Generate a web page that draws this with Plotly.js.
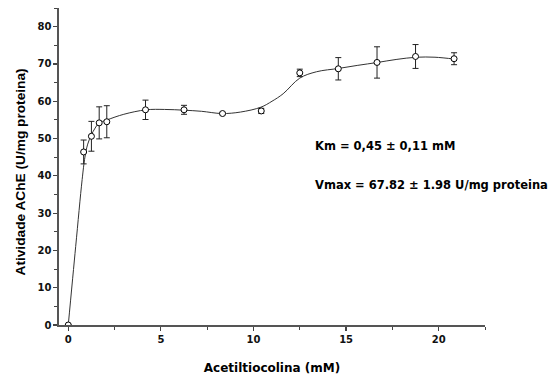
<!DOCTYPE html>
<html>
<head>
<meta charset="utf-8">
<script src="https://cdn.plot.ly/plotly-3.0.1.min.js"></script>
<style>html,body{margin:0;padding:0;background:#fff;}#chart{width:554px;height:378px;}</style>
</head>
<body>
<div id="chart"></div>
<script>
// Measured points (substrate mM, activity U/mg proteina, SD)
const substrate = [0, 0.83, 1.25, 1.67, 2.08, 4.17, 6.25, 8.33, 10.42, 12.5, 14.58, 16.67, 18.75, 20.83];
const activity  = [0, 46.4, 50.6, 54.2, 54.5, 57.7, 57.7, 56.7, 57.4, 67.6, 68.7, 70.4, 72.0, 71.4];
const sd        = [0, 3.2, 4.0, 4.3, 4.3, 2.6, 1.2, 0.3, 0.7, 1.0, 3.0, 4.2, 3.2, 1.6];

// Fitted curve
const fitX = [0, 0.4, 0.75, 0.9, 1.05, 1.25, 1.45, 1.65, 2.1, 3.0, 4.2, 5.2, 6.25, 7.2, 8.3, 9.3, 10.4, 11.0, 11.6, 12.5, 13.4, 14.6, 15.6, 16.7, 17.7, 18.8, 19.8, 20.85];
const fitY = [0, 21, 39, 45, 48.5, 51, 52.8, 54.1, 55, 56.5, 57.7, 57.8, 57.6, 57.3, 56.7, 57.1, 58.4, 60, 62, 66.2, 67.9, 68.8, 69.6, 70.4, 71.2, 71.8, 71.8, 71.3];

const xTicks = [0, 5, 10, 15, 20];
const yTicks = [0, 10, 20, 30, 40, 50, 60, 70, 80];

const kmText = "Km = 0,45 ± 0,11 mM";
const vmaxText = "Vmax = 67.82 ± 1.98 U/mg proteina";
const xTitle = "Acetiltiocolina (mM)";
const yTitle = "Atividade AChE (U/mg proteina)";

const WIDE = "DejaVu Sans, Verdana, sans-serif";
const NARROW = "Liberation Sans, Arial, sans-serif";

const traces = [
  {
    x: fitX, y: fitY, type: 'scatter', mode: 'lines',
    line: {color: '#333', width: 1, shape: 'spline', smoothing: 1},
    hoverinfo: 'skip', showlegend: false
  },
  {
    x: substrate, y: activity, type: 'scatter', mode: 'markers',
    marker: {symbol: 'circle', size: 6, color: '#fff', line: {color: '#000', width: 1}},
    error_y: {type: 'data', array: sd, visible: true, color: '#222', thickness: 1, width: 3},
    showlegend: false
  }
];

const layout = {
  width: 554, height: 378,
  margin: {l: 59, r: 69, t: 8, b: 53},
  paper_bgcolor: '#fff', plot_bgcolor: '#fff',
  showlegend: false,
  font: {family: WIDE, color: '#000'},
  xaxis: {
    range: [-0.5, 22.5], tickvals: xTicks, ticktext: xTicks.map(String),
    ticks: 'outside', ticklen: 4, tickwidth: 1.2, tickcolor: '#444',
    minor: {dtick: 2.5, tick0: 0, ticks: 'outside', ticklen: 3, tickcolor: '#444', tickwidth: 1},
    showline: true, linecolor: '#555', linewidth: 1.6, showgrid: false, zeroline: false,
    tickfont: {family: WIDE, size: 10, weight: 'bold', color: '#111'},
    title: {text: xTitle, font: {family: WIDE, size: 12, weight: 'bold', color: '#000'}, standoff: 20}
  },
  yaxis: {
    range: [0, 85], tickvals: yTicks, ticktext: yTicks.map(String),
    ticks: 'outside', ticklen: 4, tickwidth: 1.2, tickcolor: '#444',
    minor: {dtick: 5, tick0: 0, ticks: 'outside', ticklen: 3, tickcolor: '#444', tickwidth: 1},
    showline: true, linecolor: '#555', linewidth: 1.6, showgrid: false, zeroline: false,
    tickfont: {family: WIDE, size: 10, weight: 'bold', color: '#111'}
  },
  annotations: [
    {xref: 'paper', yref: 'paper', x: (20 - 59) / 426, y: (325 - 172.5) / 317, xanchor: 'center', yanchor: 'middle',
     textangle: -90, text: yTitle, showarrow: false, font: {family: NARROW, size: 13.7, weight: 'bold', color: '#000'}},
    {xref: 'paper', yref: 'paper', x: (313 - 59) / 426, y: (325 - 146) / 317, xanchor: 'left', yanchor: 'middle',
     text: kmText, showarrow: false, font: {family: WIDE, size: 11.5, weight: 'bold', color: '#000'}},
    {xref: 'paper', yref: 'paper', x: (313 - 59) / 426, y: (325 - 185) / 317, xanchor: 'left', yanchor: 'middle',
     text: vmaxText, showarrow: false, font: {family: WIDE, size: 11.5, weight: 'bold', color: '#000'}}
  ]
};

Plotly.newPlot('chart', traces, layout, {displayModeBar: false, staticPlot: true});
</script>
</body>
</html>
